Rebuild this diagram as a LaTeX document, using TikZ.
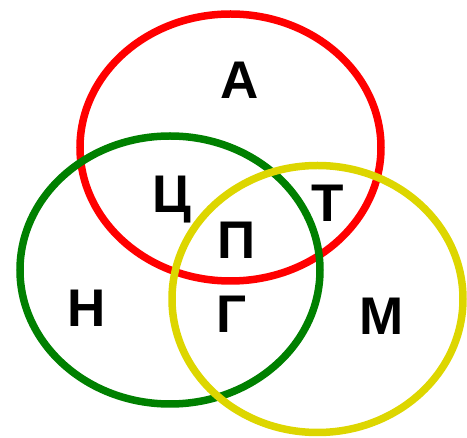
\documentclass[tikz,border=0pt]{standalone}
\usepackage{fontspec}
\setmainfont{Liberation Sans}
\usetikzlibrary{positioning}
\definecolor{setred}{RGB}{255,0,0}
\definecolor{setgreen}{RGB}{0,128,0}
\definecolor{setyellow}{RGB}{221,214,0}
\tikzset{
  setline/.style={line width=7.5pt},
  letter/.style={inner sep=0pt,anchor=base,font=\fontsize{53}{60}\selectfont\bfseries}
}

\begin{document}
\begin{tikzpicture}[x=1pt,y=-1pt]
  \useasboundingbox (0,0) rectangle (467,438);
  % Three sets
  \draw[setline,setred] (230.5,147.5) ellipse [x radius=150.5pt, y radius=133.5pt];
  \draw[setline,setgreen] (170,270) ellipse [x radius=150pt, y radius=134pt];
  \draw[setline,setyellow] (317.5,299) ellipse [x radius=145.5pt, y radius=133.5pt];
  % Region labels
  \node[letter] (a) at (240,99) {А};
  \node[letter] (ts) at (172,213) {Ц};
  \node[letter] (t) at (328,222) {Т};
  \node[letter] (p) at (237,259) {П};
  \node[letter] (n) at (87,327) {Н};
  \node[letter] (g) at (232,333) {Г};
  \node[letter] (m) at (382,335) {М};
\end{tikzpicture}
\end{document}
